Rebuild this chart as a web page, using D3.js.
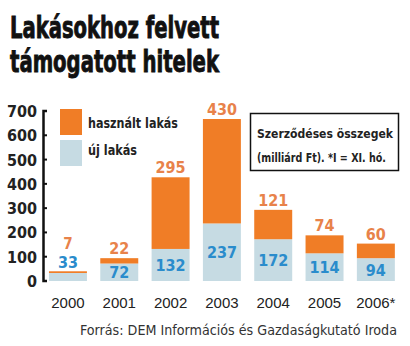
<!DOCTYPE html>
<html><head><meta charset="utf-8">
<script src="https://cdn.jsdelivr.net/npm/d3@7"></script>
<style>
html,body{margin:0;padding:0;background:#fff;}
svg{display:block;}
.cond{font-family:"DejaVu Sans","Liberation Sans",sans-serif;font-stretch:condensed;}
</style></head>
<body>
<svg id="c" width="410" height="346"></svg>
<script>
const years = ["2000","2001","2002","2003","2004","2005","2006*"];
const ujLakas = [33,72,132,237,172,114,94];
const hasznaltLakas = [7,22,295,430,121,74,60];
const yTicks = [0,100,200,300,400,500,600,700];
const titleLines = ["Lakásokhoz felvett","támogatott hitelek"];
const legendLabels = ["használt lakás","új lakás"];
const noteLines = ["Szerződéses összegek","(milliárd Ft). *I = XI. hó."];
const source = "Forrás:  DEM Információs és Gazdaságkutató Iroda";

const colOrange = "#f07d26", colBlue = "#c6dbe3";
const txtOrange = "#e8824a", txtBlue = "#2a8ccc";

const svg = d3.select("#c");
const x = d3.scaleBand().domain(years).range([42.8, 401]).paddingInner(0.26).paddingOuter(0.12);
const y = d3.scaleLinear().domain([0,700]).range([281,111]);

// title
svg.selectAll("text.title").data(titleLines).join("text")
  .attr("class","cond").attr("x",10).attr("y",(d,i)=>38+i*34)
  .attr("font-size",31).attr("font-weight","bold").attr("fill","#111")
  .attr("stroke","#111").attr("stroke-width",0.9)
  .attr("textLength",209).attr("lengthAdjust","spacingAndGlyphs")
  .text(d=>d);

// y axis
const ax = svg.append("g");
ax.append("path").attr("d",`M47,${y(700)}H43.5V${y(0)}H47`).attr("fill","none").attr("stroke","#111").attr("stroke-width",2.5);
ax.selectAll("line.tk").data(yTicks.slice(1,-1)).join("line")
  .attr("x1",43.5).attr("x2",47).attr("y1",d=>y(d)).attr("y2",d=>y(d)).attr("stroke","#111").attr("stroke-width",2);
ax.selectAll("text").data(yTicks).join("text")
  .attr("class","cond").attr("x",37).attr("y",d=>y(d)+6).attr("text-anchor","end")
  .attr("font-size",16).attr("font-weight","bold").attr("fill","#222").text(d=>d);

// bars
const g = svg.append("g");
years.forEach((yr,i)=>{
  const u = ujLakas[i], h = hasznaltLakas[i];
  g.append("rect").attr("x",x(yr)).attr("width",x.bandwidth()).attr("y",y(u)).attr("height",y(0)-y(u)).attr("fill",colBlue);
  g.append("rect").attr("x",x(yr)).attr("width",x.bandwidth()).attr("y",y(u+h)).attr("height",y(u)-y(u+h)).attr("fill",colOrange);
  const cx = x(yr)+x.bandwidth()/2;
  const segH = y(0)-y(u);
  let by, oy;
  if (segH < 16) { by = y(u+h)-3; oy = by-19; }
  else { by = (y(u)+y(0))/2+6; oy = y(u+h)-4; }
  g.append("text").attr("class","cond").attr("x",cx).attr("y",by).attr("text-anchor","middle")
    .attr("font-size",16).attr("font-weight","bold").attr("fill",txtBlue).text(u);
  g.append("text").attr("class","cond").attr("x",cx).attr("y",oy).attr("text-anchor","middle")
    .attr("font-size",segH < 16 ? 15 : 16).attr("font-weight","bold").attr("fill",txtOrange).text(h);
});

// x labels
svg.selectAll("text.xl").data(years).join("text")
  .attr("x",d=>x(d)+x.bandwidth()/2).attr("y",308).attr("text-anchor","middle")
  .attr("font-family","Liberation Sans, Arial, sans-serif").attr("font-size",15).attr("fill","#222")
  .text(d=>d);

// legend
const lg = svg.append("g");
[colOrange,colBlue].forEach((c,i)=>{
  lg.append("rect").attr("x",60).attr("y",109+i*31).attr("width",22).attr("height",26).attr("fill",c);
});
lg.selectAll("text").data(legendLabels).join("text")
  .attr("class","cond").attr("x",88).attr("y",(d,i)=>128+i*27)
  .attr("font-size",14).attr("font-weight","bold").attr("fill","#222")
  .attr("textLength",(d,i)=>i===0?90:49).attr("lengthAdjust","spacingAndGlyphs").text(d=>d);

// note box
svg.append("rect").attr("x",250.5).attr("y",113.5).attr("width",148).attr("height",57)
  .attr("fill","#fff").attr("stroke","#111").attr("stroke-width",1.5);
svg.selectAll("text.note").data(noteLines).join("text")
  .attr("class","cond").attr("x",257).attr("y",(d,i)=>138+i*24)
  .attr("font-size",12.5).attr("font-weight","bold").attr("fill","#222")
  .attr("textLength",(d,i)=>i===0?136:129).attr("lengthAdjust","spacingAndGlyphs").text(d=>d);

// source
svg.append("text").attr("class","cond").attr("x",80).attr("y",335)
  .attr("font-size",14).attr("fill","#333")
  .attr("textLength",317).attr("lengthAdjust","spacingAndGlyphs").text(source);
</script>
</body></html>
